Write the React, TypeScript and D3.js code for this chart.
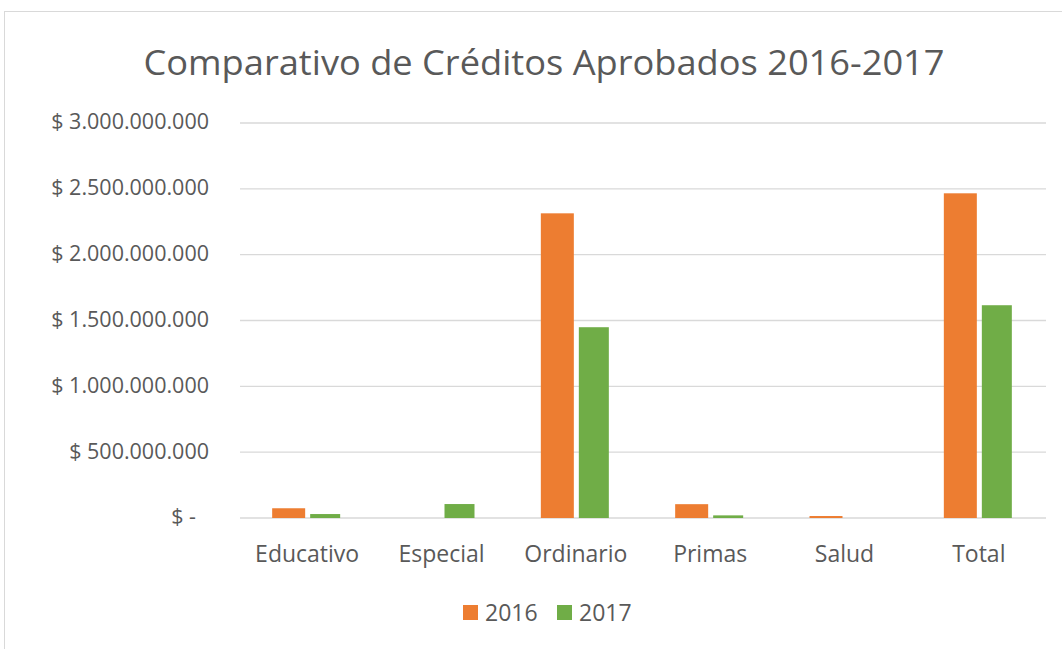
import React from "react";
import * as d3 from "d3";

const categories = ["Educativo", "Especial", "Ordinario", "Primas", "Salud", "Total"];
const seriesNames = ["2016", "2017"];
const values2016 = [74000000, 0, 2314000000, 105000000, 15000000, 2466000000];
const values2017 = [30000000, 106000000, 1449000000, 20000000, 0, 1616000000];
const yTicks = [0, 500000000, 1000000000, 1500000000, 2000000000, 2500000000, 3000000000];
const title = "Comparativo de Créditos Aprobados 2016-2017";

const colors = ["#ED7D31", "#70AD47"];
const font = "'Open Sans', 'Noto Sans', sans-serif";
const textColor = "#595959";

const W = 1062;
const H = 649;
const plot = { left: 240, right: 1046, top: 123, bottom: 518 };

function fmt(v: number): string {
  if (v === 0) return "$ -";
  return "$ " + d3.format(",")(v).replace(/,/g, ".");
}

export default function App() {
  const x = d3
    .scaleBand<string>()
    .domain(categories)
    .range([plot.left, plot.right])
    .paddingInner(0)
    .paddingOuter(0);
  const y = d3.scaleLinear().domain([0, 3000000000]).range([plot.bottom, plot.top]);
  const barW = 32;
  const gap = 6;
  const series = [values2016, values2017];

  return (
    <svg
      width={W}
      height={H}
      style={{ position: "absolute", left: 0, top: 0, background: "#fff" }}
      fontFamily={font}
    >
      <rect x={4.5} y={11.5} width={1070} height={700} fill="#fff" stroke="#D9D9D9" strokeWidth={1} />
      <text x={544} y={75} textAnchor="middle" fontSize={35} fill={textColor} textLength={801} lengthAdjust="spacingAndGlyphs">
        {title}
      </text>
      {yTicks.map((t) => {
        const label = fmt(t);
        return (
          <g key={t}>
            <line x1={plot.left} x2={plot.right} y1={y(t)} y2={y(t)} stroke="#D9D9D9" strokeWidth={t === 0 ? 1.5 : 1.3} />
            <text
              x={t === 0 ? 196 : 209}
              y={y(t)}
              dy="0.3em"
              textAnchor="end"
              fontSize={21.5}
              fill={textColor}
            >
              {label}
            </text>
          </g>
        );
      })}
      {categories.map((c, i) => {
        const cx = (x(c) as number) + x.bandwidth() / 2;
        return (
          <g key={c}>
            {series.map((vals, s) => {
              const bx = s === 0 ? cx - gap / 2 - barW : cx + gap / 2;
              const v = vals[i];
              if (v <= 0) return null;
              return (
                <rect
                  key={s}
                  x={bx}
                  y={y(v)}
                  width={s === 0 ? barW + 1 : barW - 2}
                  height={y(0) - y(v)}
                  fill={colors[s]}
                />
              );
            })}
            <text x={cx} y={562} textAnchor="middle" fontSize={23} fill={textColor}>
              {c}
            </text>
          </g>
        );
      })}
      {seriesNames.map((n, s) => {
        const lx = 463 + s * 94;
        return (
          <g key={n}>
            <rect x={lx} y={605} width={15} height={15} fill={colors[s]} />
            <text x={lx + 22} y={612.5} dy="0.36em" fontSize={23} fill={textColor}>
              {n}
            </text>
          </g>
        );
      })}
    </svg>
  );
}
